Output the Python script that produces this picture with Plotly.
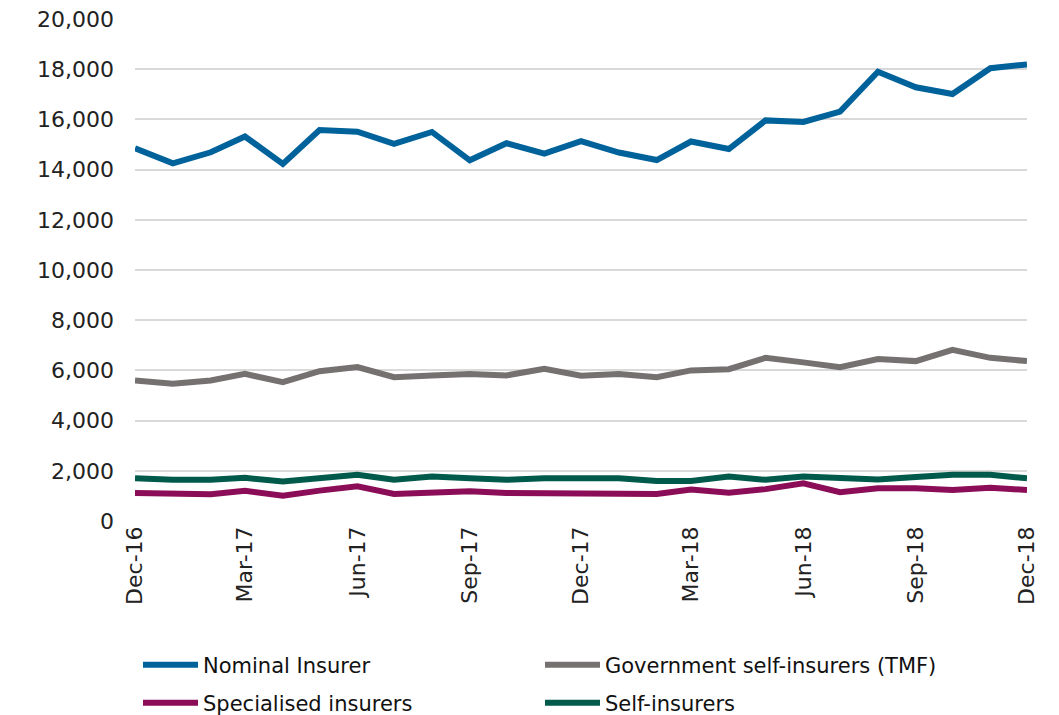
import plotly.graph_objects as go

months = ["2016-12-01", "2017-01-01", "2017-02-01", "2017-03-01", "2017-04-01", "2017-05-01",
          "2017-06-01", "2017-07-01", "2017-08-01", "2017-09-01", "2017-10-01", "2017-11-01",
          "2017-12-01", "2018-01-01", "2018-02-01", "2018-03-01", "2018-04-01", "2018-05-01",
          "2018-06-01", "2018-07-01", "2018-08-01", "2018-09-01", "2018-10-01", "2018-11-01",
          "2018-12-01"]

nominal_insurer = [14850, 14250, 14690, 15320, 14230, 15580, 15510, 15030, 15500, 14370,
                   15050, 14640, 15130, 14680, 14380, 15120, 14820, 15960, 15900, 16310,
                   17900, 17280, 17010, 18040, 18190]
government_tmf = [5600, 5470, 5600, 5860, 5530, 5970, 6130, 5730, 5800, 5860,
                  5800, 6060, 5790, 5860, 5730, 6000, 6050, 6500, 6320, 6130,
                  6450, 6370, 6820, 6500, 6370]
specialised = [1120, 1070, 1070, 1200, 1010, 1210, 1380, 1080, 1130, 1190,
               1120, 1120, 1120, 1120, 1080, 1250, 1130, 1270, 1500, 1150,
               1300, 1300, 1240, 1320, 1240]
self_insurers = [1700, 1640, 1640, 1720, 1570, 1720, 1840, 1640, 1770, 1700,
                 1640, 1700, 1700, 1700, 1590, 1590, 1770, 1640, 1770, 1720,
                 1650, 1750, 1840, 1840, 1700]

series = [
    ("Nominal Insurer", nominal_insurer, "#00629B", "legend"),
    ("Government self-insurers (TMF)", government_tmf, "#767171", "legend"),
    ("Specialised insurers", specialised, "#8B0D57", "legend2"),
    ("Self-insurers", self_insurers, "#005A4B", "legend2"),
]

fig = go.Figure()
for name, vals, color, leg in series:
    fig.add_trace(go.Scatter(x=months, y=vals, name=name, mode="lines", legend=leg,
                             line=dict(color=color, width=6)))

legend_font = dict(family="DejaVu Sans", size=21, color="#111111")
common_legend = dict(orientation="h", xref="container", yref="container",
                     x=138 / 1059, xanchor="left", yanchor="middle",
                     itemwidth=55, entrywidth=332, entrywidthmode="pixels",
                     font=legend_font, bgcolor="rgba(0,0,0,0)")

fig.update_layout(
    width=1059, height=715,
    margin=dict(l=135, r=32, t=19, b=194, autoexpand=False),
    plot_bgcolor="white", paper_bgcolor="white",
    font=dict(family="DejaVu Sans", size=22, color="#222222"),
    showlegend=True,
    legend=dict(common_legend, y=1 - 665 / 715),
    legend2=dict(common_legend, y=1 - 703 / 715),
)
fig.update_xaxes(
    type="date", range=[months[0], months[-1]],
    dtick="M3", tick0=months[0], tickformat="%b-%y", tickangle=-90,
    showgrid=False, showline=False, ticks="", zeroline=False,
    tickfont=dict(family="DejaVu Sans", size=22, color="#222222"),
)
fig.update_yaxes(
    range=[0, 20000], dtick=2000, tickformat=",d",
    showgrid=True, gridcolor="#d9d9d9", gridwidth=1.5,
    zeroline=False, showline=False, ticks="", ticklabelstandoff=20,
    ticklabeloverflow="allow",
    tickfont=dict(family="DejaVu Sans", size=22, color="#222222"),
)

fig.write_html("out.html", config={"displayModeBar": False},
               post_script="document.body.style.margin='0px';")
